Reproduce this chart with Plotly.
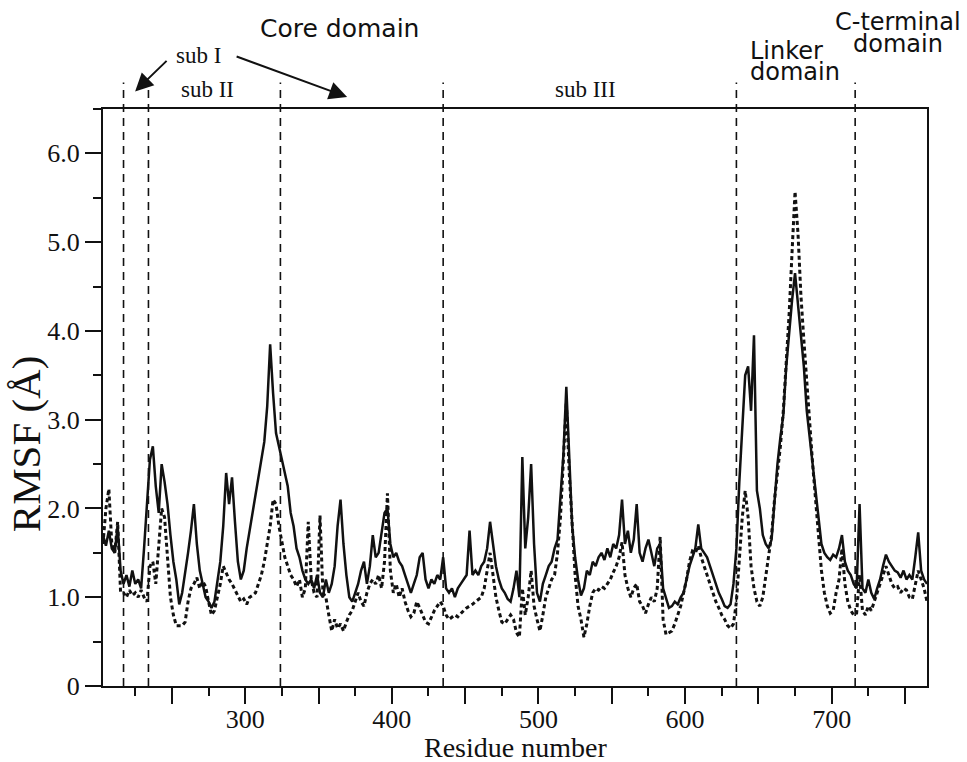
import plotly.graph_objects as go

# Residue numbers (every 2nd residue, 203..765)
residues = list(range(203, 766, 2))

# RMSF, solid curve (Å)
rmsf_solid = [
    1.70, 1.58, 1.75, 1.55, 1.50, 1.80, 1.30, 1.15, 1.25, 1.12,   # 203-221
    1.30, 1.15, 1.20, 1.10, 1.55, 2.10, 2.55, 2.70, 2.25, 1.95,   # 223-241
    2.50, 2.30, 2.05, 1.70, 1.40, 1.20, 0.92, 1.05, 1.25, 1.50,   # 243-261
    1.75, 2.05, 1.60, 1.30, 1.15, 1.00, 0.95, 0.88, 0.95, 1.15,   # 263-281
    1.40, 1.80, 2.40, 2.05, 2.35, 1.85, 1.40, 1.20, 1.30, 1.55,   # 283-301
    1.75, 1.95, 2.20, 2.35, 2.60, 2.75, 3.15, 3.85, 3.30, 2.85,   # 303-321
    2.70, 2.55, 2.40, 2.25, 1.95, 1.80, 1.55, 1.45, 1.30, 1.20,   # 323-341
    1.15, 1.20, 1.10, 1.25, 1.05, 1.00, 1.20, 1.05, 1.15, 1.35,   # 343-361
    1.80, 2.10, 1.60, 1.25, 1.00, 0.95, 1.05, 1.15, 1.30, 1.40,   # 363-381
    1.15, 1.35, 1.70, 1.45, 1.50, 1.75, 1.95, 2.00, 1.60, 1.45,   # 383-401
    1.50, 1.40, 1.35, 1.25, 1.15, 1.05, 1.15, 1.25, 1.45, 1.50,   # 403-421
    1.20, 1.10, 1.20, 1.15, 1.25, 1.20, 1.45, 1.10, 1.05, 1.10,   # 423-441
    1.00, 1.10, 1.15, 1.20, 1.25, 1.75, 1.25, 1.30, 1.25, 1.35,   # 443-461
    1.40, 1.55, 1.85, 1.60, 1.35, 1.20, 1.10, 1.05, 0.98, 0.95,   # 463-481
    1.10, 1.30, 1.00, 2.58, 1.55, 1.90, 2.50, 1.60, 1.05, 0.95,   # 483-501
    1.15, 1.25, 1.35, 1.40, 1.55, 1.65, 2.10, 2.60, 3.37, 2.50,   # 503-521
    1.80, 1.45, 1.20, 1.02, 1.10, 1.30, 1.25, 1.40, 1.35, 1.45,   # 523-541
    1.50, 1.42, 1.55, 1.45, 1.60, 1.55, 1.70, 2.10, 1.60, 1.75,   # 543-561
    1.50, 1.65, 2.05, 1.50, 1.40, 1.55, 1.65, 1.50, 1.35, 1.55,   # 563-581
    1.60, 1.10, 1.00, 0.88, 0.90, 0.95, 0.92, 1.00, 1.05, 1.20,   # 583-601
    1.35, 1.45, 1.55, 1.82, 1.55, 1.50, 1.45, 1.35, 1.25, 1.15,   # 603-621
    1.05, 0.98, 0.90, 0.88, 0.92, 1.15, 1.55, 2.30, 2.90, 3.50,   # 623-641
    3.60, 3.10, 3.95, 2.20, 2.00, 1.70, 1.60, 1.55, 1.65, 2.10,   # 643-661
    2.50, 2.80, 3.05, 3.60, 4.00, 4.35, 4.65, 4.30, 3.90, 3.60,   # 663-681
    3.10, 2.80, 2.50, 2.15, 1.85, 1.60, 1.50, 1.45, 1.42, 1.48,   # 683-701
    1.45, 1.55, 1.70, 1.40, 1.30, 1.25, 1.15, 1.10, 2.05, 1.10,   # 703-721
    1.05, 1.20, 1.05, 0.98, 1.10, 1.20, 1.35, 1.48, 1.40, 1.35,   # 723-741
    1.30, 1.28, 1.22, 1.30, 1.20, 1.25, 1.20, 1.45, 1.73, 1.30,   # 743-761
    1.20, 1.15,                                                   # 763-765
]

# RMSF, dotted curve (Å)
rmsf_dotted = [
    1.60, 2.00, 2.22, 1.60, 1.50, 1.85, 1.05, 1.05, 1.00, 1.08,   # 203-221
    1.02, 1.05, 1.00, 1.08, 1.00, 0.95, 1.35, 1.40, 1.15, 1.55,   # 223-241
    2.00, 1.90, 1.50, 1.00, 0.80, 0.68, 0.68, 0.68, 0.72, 0.95,   # 243-261
    1.10, 1.15, 1.22, 1.10, 1.18, 1.12, 0.95, 0.80, 0.85, 1.00,   # 263-281
    1.15, 1.35, 1.28, 1.20, 1.15, 1.08, 1.00, 0.95, 0.98, 0.92,   # 283-301
    1.00, 1.02, 1.05, 1.15, 1.25, 1.40, 1.60, 1.80, 2.10, 2.05,   # 303-321
    1.80, 1.60, 1.45, 1.35, 1.25, 1.20, 1.12, 1.20, 1.00, 1.10,   # 323-341
    1.85, 1.20, 1.05, 1.00, 1.92, 1.05, 1.00, 0.80, 0.62, 0.75,   # 343-361
    0.65, 0.70, 0.62, 0.72, 0.80, 0.85, 0.95, 1.05, 0.95, 0.90,   # 363-381
    1.05, 1.15, 1.20, 1.15, 1.25, 1.10, 1.40, 2.17, 1.30, 1.05,   # 383-401
    1.15, 1.00, 1.10, 0.95, 0.85, 0.78, 0.82, 0.95, 0.88, 0.80,   # 403-421
    0.72, 0.70, 0.78, 0.85, 0.90, 0.95, 0.90, 0.80, 0.75, 0.78,   # 423-441
    0.80, 0.78, 0.82, 0.85, 0.88, 0.90, 0.92, 0.95, 0.98, 1.00,   # 443-461
    1.10, 1.30, 1.50, 1.25, 1.00, 0.85, 0.72, 0.70, 0.75, 0.80,   # 463-481
    0.75, 0.60, 0.55, 1.10, 0.80, 1.00, 1.30, 0.90, 0.75, 0.62,   # 483-501
    0.80, 1.00, 1.10, 1.20, 1.25, 1.50, 1.90, 2.60, 3.20, 2.40,   # 503-521
    1.80, 1.25, 0.90, 0.75, 0.55, 0.70, 0.90, 1.05, 1.10, 1.08,   # 523-541
    1.12, 1.10, 1.15, 1.20, 1.28, 1.35, 1.45, 1.62, 1.25, 1.10,   # 543-561
    1.00, 1.10, 1.15, 0.95, 0.90, 0.82, 0.92, 1.00, 0.95, 1.10,   # 563-581
    1.68, 0.75, 0.58, 0.60, 0.62, 0.70, 0.80, 0.90, 1.05, 1.20,   # 583-601
    1.40, 1.52, 1.50, 1.58, 1.45, 1.35, 1.25, 1.15, 1.05, 0.95,   # 603-621
    0.88, 0.80, 0.75, 0.68, 0.65, 0.70, 0.95, 1.40, 1.90, 2.20,   # 623-641
    1.90, 1.35, 1.10, 0.95, 0.90, 1.00, 1.25, 1.45, 1.70, 2.10,   # 643-661
    2.40, 2.70, 3.10, 3.60, 4.20, 4.90, 5.57, 5.10, 4.40, 3.90,   # 663-681
    3.40, 2.90, 2.50, 2.10, 1.70, 1.30, 1.05, 0.90, 0.82, 0.85,   # 683-701
    1.05, 1.20, 1.55, 1.15, 0.95, 0.85, 0.80, 0.82, 1.25, 0.85,   # 703-721
    0.80, 0.90, 0.85, 0.95, 1.05, 1.15, 1.25, 1.35, 1.25, 1.15,   # 723-741
    1.10, 1.12, 1.05, 1.10, 1.08, 1.00, 0.98, 1.15, 1.30, 1.20,   # 743-761
    1.10, 0.95,                                                   # 763-765
]

# Domain boundaries (residue numbers)
boundaries = [217, 234, 324, 435, 635, 716]

# Axis ticks
x_tickvals = [250, 300, 350, 400, 450, 500, 550, 600, 650, 700, 750]
x_ticktext = ["", "300", "", "400", "", "500", "", "600", "", "700", ""]
y_tickvals = [0, 1, 2, 3, 4, 5, 6]
y_ticktext = ["0", "1.0", "2.0", "3.0", "4.0", "5.0", "6.0"]

SERIF = "Liberation Serif, Times New Roman, serif"
SANS = "DejaVu Sans, Verdana, sans-serif"
INK = "#111111"

fig = go.Figure()
fig.add_trace(go.Scatter(x=residues, y=rmsf_dotted, mode="lines",
                         line=dict(color=INK, width=3, dash="4px,3px"),
                         name="dotted", hoverinfo="skip"))
fig.add_trace(go.Scatter(x=residues, y=rmsf_solid, mode="lines",
                         line=dict(color=INK, width=2.5),
                         name="solid", hoverinfo="skip"))

for b in boundaries:
    fig.add_shape(type="line", xref="x", yref="paper", x0=b, x1=b, y0=0, y1=1.046,
                  line=dict(color=INK, width=1.6, dash="8px,6px"), layer="above")

annotations = [
    dict(text="Core domain", x=364, y=1.140, font=dict(family=SANS, size=25)),
    dict(text="sub I", x=268, y=1.093, font=dict(family=SERIF, size=23)),
    dict(text="sub II", x=274, y=1.033, font=dict(family=SERIF, size=23)),
    dict(text="sub III", x=532, y=1.033, font=dict(family=SERIF, size=23)),
    dict(text="Linker", x=643.5, y=1.101, xanchor="left", font=dict(family=SANS, size=24)),
    dict(text="domain", x=643.5, y=1.064, xanchor="left", font=dict(family=SANS, size=24)),
    dict(text="C-terminal", x=745.5, y=1.150, font=dict(family=SANS, size=24)),
    dict(text="domain", x=745.0, y=1.113, font=dict(family=SANS, size=24)),
]
for a in annotations:
    a.update(xref="x", yref="paper", showarrow=False, font_color=INK,
             yanchor="middle", borderpad=0)
    a.setdefault("xanchor", "center")
    fig.add_annotation(**a)

# arrows from "sub I"
fig.add_annotation(x=224.9, y=1.0305, xref="x", yref="paper", ax=33, ay=-32,
                   axref="pixel", ayref="pixel", showarrow=True, text="",
                   arrowhead=2, arrowsize=1.8, arrowwidth=2, arrowcolor=INK)
fig.add_annotation(x=369.5, y=1.0208, xref="x", yref="paper", ax=-112, ay=-41,
                   axref="pixel", ayref="pixel", showarrow=True, text="",
                   arrowhead=2, arrowsize=1.8, arrowwidth=2, arrowcolor=INK)

# axis titles
fig.add_annotation(text="Residue number", xref="paper", yref="paper",
                   x=0.5, y=-0.106, xanchor="center", yanchor="middle",
                   showarrow=False, borderpad=0,
                   font=dict(family=SERIF, size=28, color=INK))
fig.add_annotation(text="RMSF (Å)", xref="paper", yref="paper",
                   x=-0.094, y=0.42, xanchor="center", yanchor="middle",
                   textangle=-90, showarrow=False, borderpad=0,
                   font=dict(family=SERIF, size=41, color=INK))

fig.update_xaxes(range=[203, 765], showline=True, mirror=True, linecolor=INK,
                 linewidth=2, ticks="outside", ticklen=16, tickwidth=1.5,
                 tickcolor=INK, tickmode="array", tickvals=x_tickvals,
                 ticktext=x_ticktext, showgrid=False, zeroline=False,
                 ticklabelstandoff=-7,
                 tickfont=dict(family=SERIF, size=26, color=INK),
                 minor=dict(ticks="outside", ticklen=8, tickwidth=1.5,
                            tickcolor=INK, dtick=25, tick0=0, showgrid=False))
fig.update_yaxes(range=[0, 6.5], showline=True, mirror=True, linecolor=INK,
                 linewidth=2, ticks="outside", ticklen=16, tickwidth=1.5,
                 tickcolor=INK, tickmode="array", tickvals=y_tickvals,
                 ticktext=y_ticktext, showgrid=False, zeroline=False,
                 tickfont=dict(family=SERIF, size=26, color=INK),
                 minor=dict(ticks="outside", ticklen=8, tickwidth=1.5,
                            tickcolor=INK, dtick=0.5, tick0=0, showgrid=False))

fig.update_layout(width=967, height=762, showlegend=False,
                  margin=dict(l=103, r=40, t=109, b=76),
                  plot_bgcolor="white", paper_bgcolor="white",
                  hovermode=False)

# remove the page's default 8px body margin so the figure sits at the window origin
fig.write_html("out.html", config={"displayModeBar": False},
               post_script="document.body.style.margin='0';document.body.style.overflow='hidden';")
